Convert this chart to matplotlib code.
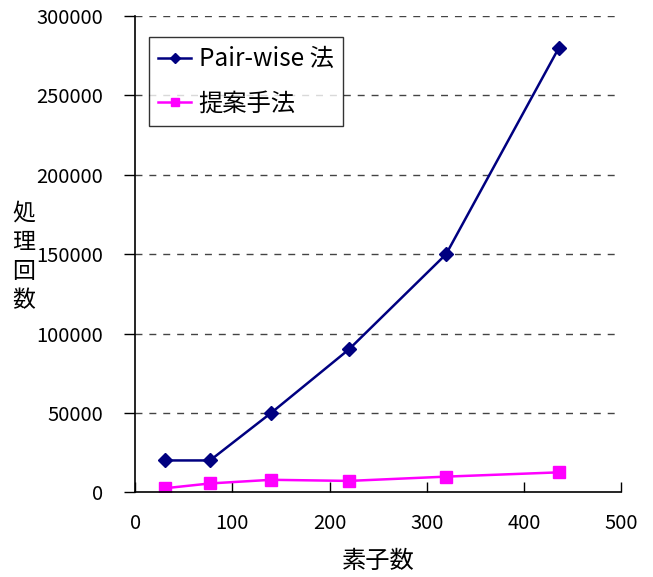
import matplotlib
matplotlib.use('Agg')
from matplotlib import pyplot as plt

plt.rcParams['font.family'] = ['Noto Sans CJK JP', 'DejaVu Sans']

# data
elements = [31, 77, 140, 220, 320, 436]
pairwise = [20000, 20000, 50000, 90000, 150000, 280000]
proposed = [2500, 5500, 7800, 7100, 9800, 12500]

x_ticks = [0, 100, 200, 300, 400, 500]
y_ticks = [0, 50000, 100000, 150000, 200000, 250000, 300000]

fig = plt.figure(figsize=(6.53, 5.77), dpi=100)
ax = fig.add_axes([0.207, 0.147, 0.744, 0.825])

ax.plot(elements, pairwise, color='#000080', linewidth=1.8, marker='D',
        markersize=7, label='Pair-wise 法')
ax.plot(elements, proposed, color='#ff00ff', linewidth=1.8, marker='s',
        markersize=8, label='提案手法')

ax.set_xlim(0, 500)
ax.set_ylim(0, 300000)
ax.set_xticks(x_ticks)
ax.set_yticks(y_ticks)
ax.set_yticklabels([str(v) for v in y_ticks])

for v in y_ticks[1:]:
    ax.axhline(v, color='#444444', linewidth=1.0, linestyle=(0, (5, 5)), zorder=0)

ax.spines['top'].set_visible(False)
ax.spines['right'].set_visible(False)
ax.spines['left'].set_linewidth(1.2)
ax.spines['bottom'].set_linewidth(1.2)

ax.tick_params(axis='y', direction='out', length=8, width=1.0, pad=15, labelsize=14.5)
ax.tick_params(axis='x', direction='in', length=7, width=1.0, pad=15, labelsize=14.5)

ax.set_xlabel('素子数', fontsize=17.5, labelpad=10)
fig.text(0.036, 0.555, '処\n理\n回\n数', fontsize=16.5, ha='center', va='center',
         linespacing=1.35)

leg = ax.legend(loc='upper left', bbox_to_anchor=(0.029, 0.956), fontsize=17.5,
                frameon=True, fancybox=False, edgecolor='black',
                handlelength=1.35, borderpad=0.38, labelspacing=0.74,
                handletextpad=0.3, borderaxespad=0.0, markerscale=0.8)
leg.get_frame().set_linewidth(1.0)

fig.savefig('out.png', dpi=100)
